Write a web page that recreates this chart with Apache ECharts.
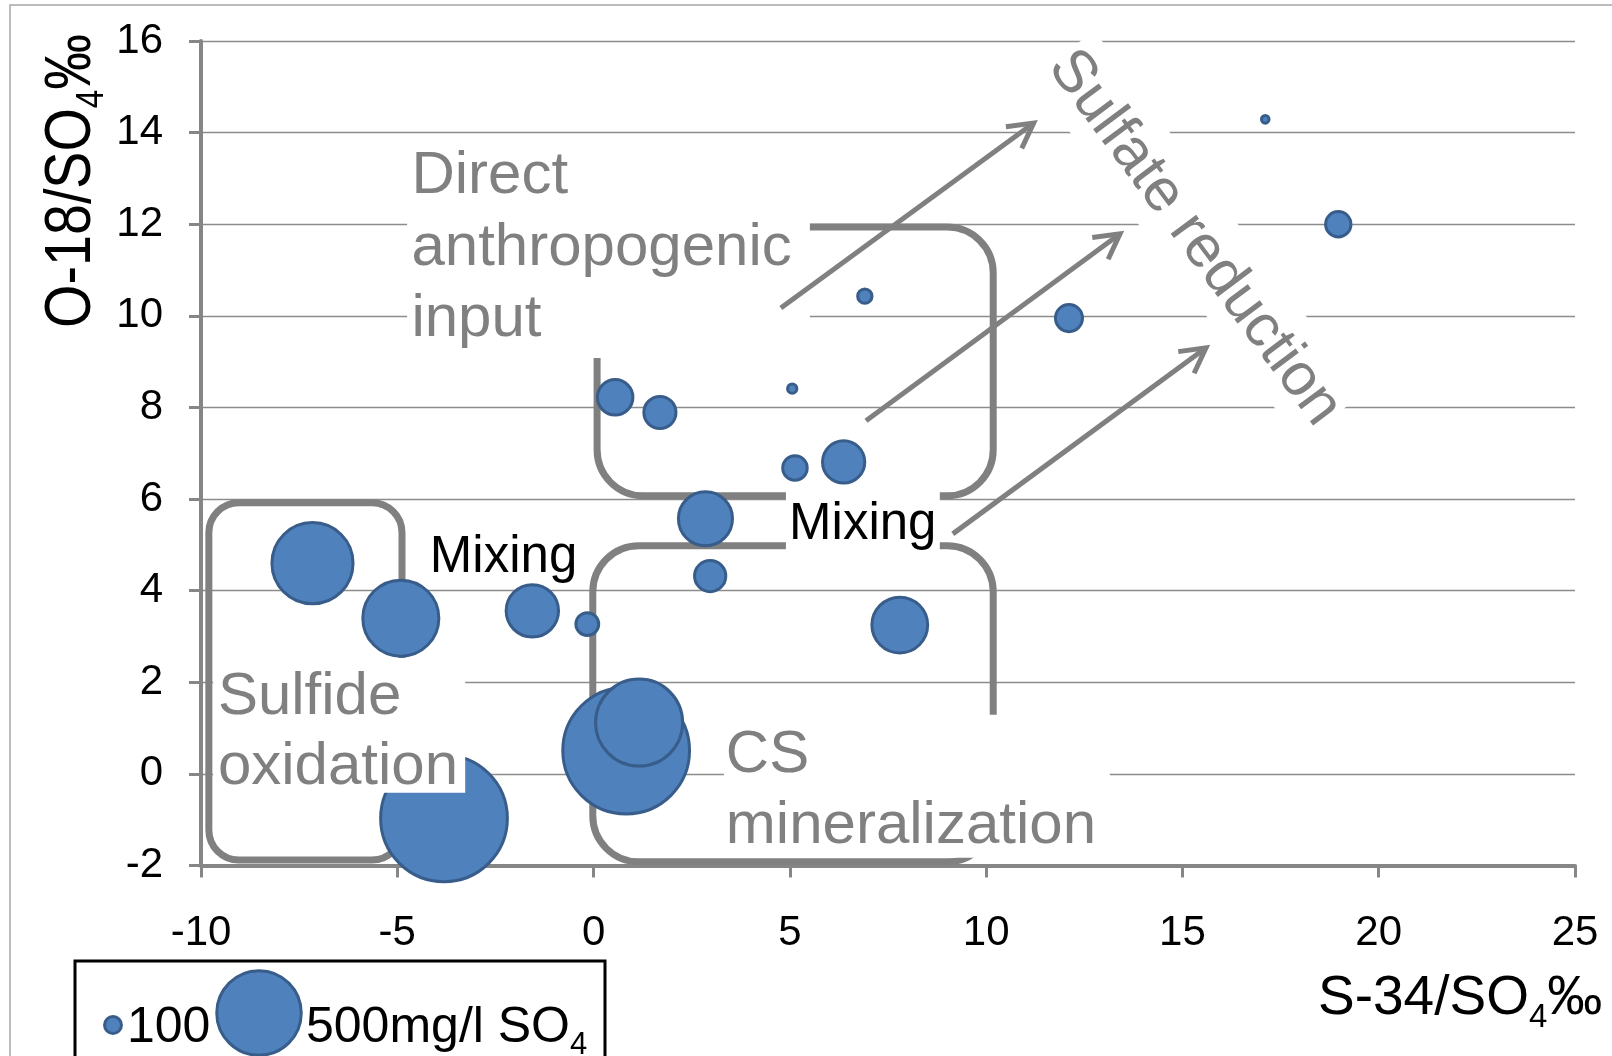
<!DOCTYPE html>
<html>
<head>
<meta charset="utf-8">
<script src="https://cdn.jsdelivr.net/npm/echarts@6/dist/echarts.min.js"></script>
<style>
html,body{margin:0;padding:0;background:#fff;}
#c{width:1612px;height:1056px;}
</style>
</head>
<body>
<div id="c"></div>
<script>
// ---- data ----
const s34 = [-7.16, -4.91, -3.81, -1.56, -0.16, 0.83, 1.16, 0.55, 1.69, 5.06, 5.13, 6.37, 2.85, 2.97, 7.80, 6.91, 12.11, 17.11, 18.97];
const o18 = [4.60, 3.40, -0.97, 3.56, 3.27, 0.51, 1.12, 8.22, 7.89, 8.41, 6.68, 6.81, 5.57, 4.32, 3.25, 10.43, 9.95, 14.29, 12.00];
const so4 = [480, 450, 750, 310, 135, 750, 515, 210, 190, 55, 145, 250, 320, 185, 330, 85, 160, 45, 150];
const legendSizes = [100, 500];
const legendLabels = ['100', '500mg/l SO{s|4}'];
const xTitle = 'S-34/SO{s|4}‰';
const yTitle = 'O-18/SO{s|4}‰';

const FONT = '"Liberation Sans", Arial, sans-serif';
const GRAY = '#808080';
const K = 0.0845;
const sizeOf = v => 2 * K * v;

const chart = echarts.init(document.getElementById('c'), null, {renderer: 'canvas'});

const option = {
  animation: false,
  backgroundColor: '#ffffff',
  textStyle: {fontFamily: FONT},
  grid: {left: 201, right: 37, top: 41, bottom: 190.5, containLabel: false, outerBoundsMode: 'none'},
  xAxis: {
    type: 'value', min: -10, max: 25, interval: 5,
    axisLine: {show: true, onZero: false, lineStyle: {color: '#868686', width: 4}},
    axisTick: {show: true, length: 12, lineStyle: {color: '#868686', width: 3}},
    splitLine: {show: false},
    axisLabel: {fontSize: 42, color: '#000', margin: 47, fontFamily: FONT}
  },
  yAxis: {
    type: 'value', min: -2, max: 16, interval: 2,
    axisLine: {show: true, onZero: false, lineStyle: {color: '#868686', width: 4}},
    axisTick: {show: true, length: 12, lineStyle: {color: '#868686', width: 3}},
    splitLine: {show: true, lineStyle: {color: '#8c8c8c', width: 1.3}},
    axisLabel: {fontSize: 42, color: '#000', margin: 38, fontFamily: FONT}
  },
  series: [{
    type: 'scatter',
    data: s34.map((x, i) => [x, o18[i], so4[i]]),
    symbolSize: d => sizeOf(d[2]),
    itemStyle: {color: '#4f81bd', borderColor: '#385d8a', borderWidth: 3, opacity: 1},
    emphasis: {disabled: true},
    clip: false,
    z: 2
  }]
};
chart.setOption(option);

// ---- annotations (data coordinates) ----
const zoneRects = [
  {x1: -9.80, y1: 5.92, x2: -4.88, y2: -1.88, r: 30},
  {x1: 0.09, y1: 11.94, x2: 10.18, y2: 6.07, r: 46},
  {x1: -0.02, y1: 4.98, x2: 10.18, y2: -1.92, r: 46}
];
const whiteBoxes = [
  {x1: -4.75, y1: 13.84, x2: 5.51, y2: 9.08},
  {x1: -9.69, y1: 2.53, x2: -3.27, y2: -0.41},
  {x1: 3.32, y1: 1.29, x2: 13.15, y2: -1.83},
  {x1: 4.90, y1: 6.22, x2: 8.82, y2: 4.82}
];
const labels = [
  {t: 'Direct', x: -4.64, y: 12.64, fs: 60, c: GRAY},
  {t: 'anthropogenic', x: -4.64, y: 11.07, fs: 60, c: GRAY},
  {t: 'input', x: -4.64, y: 9.52, fs: 60, c: GRAY},
  {t: 'Sulfide', x: -9.57, y: 1.27, fs: 60, c: GRAY},
  {t: 'oxidation', x: -9.57, y: -0.26, fs: 60, c: GRAY},
  {t: 'CS', x: 3.37, y: 0.02, fs: 60, c: GRAY},
  {t: 'mineralization', x: 3.37, y: -1.55, fs: 60, c: GRAY},
  {t: 'Mixing', x: -4.17, y: 4.39, fs: 51, c: '#000'},
  {t: 'Mixing', x: 4.98, y: 5.11, fs: 51, c: '#000'}
];
const arrows = [
  [[4.77, 10.17], [11.21, 14.21]],
  [[6.94, 7.71], [13.41, 11.79]],
  [[9.15, 5.24], [15.60, 9.30]]
];
const rotLabel = {t: 'Sulfate reduction', x: 15.37, y: 11.74, fs: 60, angleDeg: -53.4};

function P(x, y) { return chart.convertToPixel({seriesIndex: 0}, [x, y]); }

const els = [];
// outer chart border
els.push({type: 'rect', z: 0, shape: {x: 10, y: 5, width: 1640, height: 1100},
  style: {fill: 'none', stroke: '#a6a6a6', lineWidth: 1.5}, silent: true});

zoneRects.forEach(r => {
  const a = P(r.x1, r.y1), b = P(r.x2, r.y2);
  els.push({type: 'rect', z: 1, silent: true,
    shape: {x: a[0], y: a[1], width: b[0] - a[0], height: b[1] - a[1], r: r.r},
    style: {fill: 'none', stroke: GRAY, lineWidth: 7}});
});
whiteBoxes.forEach(r => {
  const a = P(r.x1, r.y1), b = P(r.x2, r.y2);
  els.push({type: 'rect', z: 3, silent: true,
    shape: {x: a[0], y: a[1], width: b[0] - a[0], height: b[1] - a[1]},
    style: {fill: '#ffffff', stroke: null}});
});
labels.forEach(l => {
  const p = P(l.x, l.y);
  els.push({type: 'text', z: 4, silent: true,
    style: {text: l.t, x: p[0], y: p[1] - 0.3 * l.fs, font: l.fs + 'px ' + FONT, fill: l.c,
      textAlign: 'left', textVerticalAlign: 'middle'}});
});
arrows.forEach(([s, e]) => {
  const p0 = P(s[0], s[1]), p1 = P(e[0], e[1]);
  const ang = Math.atan2(p1[1] - p0[1], p1[0] - p0[0]);
  const L = 28, a = 0.5;
  const w1 = [p1[0] - L * Math.cos(ang - a), p1[1] - L * Math.sin(ang - a)];
  const w2 = [p1[0] - L * Math.cos(ang + a), p1[1] - L * Math.sin(ang + a)];
  const tip = [p1[0] - 2 * Math.cos(ang), p1[1] - 2 * Math.sin(ang)];
  els.push({type: 'polyline', z: 5, silent: true, shape: {points: [p0, tip]},
    style: {stroke: GRAY, lineWidth: 5, fill: null}});
  els.push({type: 'polyline', z: 5, silent: true, shape: {points: [w1, p1, w2]},
    style: {stroke: GRAY, lineWidth: 5, fill: null, lineJoin: 'miter'}});
});
{
  const p = P(rotLabel.x, rotLabel.y);
  const w = 452, h = 80;
  els.push({type: 'group', z: 4, x: p[0], y: p[1], rotation: rotLabel.angleDeg * Math.PI / 180, silent: true,
    children: [
      {type: 'rect', z: 4, shape: {x: -w / 2, y: -h / 2, width: w, height: h}, style: {fill: '#ffffff', stroke: null}},
      {type: 'text', z: 4, style: {text: rotLabel.t, x: 0, y: 3, font: rotLabel.fs + 'px ' + FONT, fill: GRAY,
        textAlign: 'center', textVerticalAlign: 'middle'}}
    ]});
}
// axis titles
els.push({type: 'text', z: 4, silent: true,
  style: {text: xTitle, x: 1318, y: 999, font: '55px ' + FONT, fill: '#000', textLineHeight: 70,
    textAlign: 'left', textVerticalAlign: 'middle',
    rich: {s: {font: '33px ' + FONT, fill: '#000', verticalAlign: 'bottom', lineHeight: 33}}}});
els.push({type: 'group', x: 72, y: 181, rotation: Math.PI / 2, silent: true,
  children: [{type: 'text', z: 4, scaleX: 0.87,
    style: {text: yTitle, x: 0, y: 0, font: '64px ' + FONT, fill: '#000', textLineHeight: 80,
      textAlign: 'center', textVerticalAlign: 'middle',
      rich: {s: {font: '38px ' + FONT, fill: '#000', verticalAlign: 'bottom', lineHeight: 38}}}}]});
// size legend
els.push({type: 'rect', z: 6, silent: true, shape: {x: 75, y: 961, width: 530, height: 130},
  style: {fill: '#ffffff', stroke: '#000', lineWidth: 3}});
const legendPos = [[113, 1025, 127], [259, 1013, 306]];
legendSizes.forEach((v, i) => {
  els.push({type: 'circle', z: 7, silent: true,
    shape: {cx: legendPos[i][0], cy: legendPos[i][1], r: sizeOf(v) / 2},
    style: {fill: '#4f81bd', stroke: '#385d8a', lineWidth: 3}});
  els.push({type: 'text', z: 7, silent: true,
    style: {text: legendLabels[i], x: legendPos[i][2], y: 1028, font: '50px ' + FONT, fill: '#000',
      textLineHeight: 66, textAlign: 'left', textVerticalAlign: 'middle',
      rich: {s: {font: '31px ' + FONT, fill: '#000', verticalAlign: 'bottom', lineHeight: 31}}}});
});

chart.setOption({graphic: {elements: els}});
</script>
</body>
</html>
